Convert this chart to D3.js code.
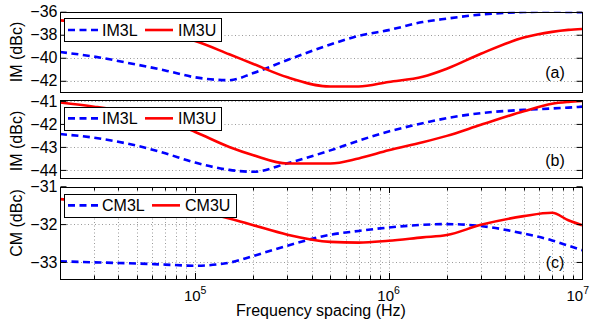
<!DOCTYPE html>
<html><head><meta charset="utf-8">
<script src="https://cdn.jsdelivr.net/npm/d3@7"></script>
<style>
html,body{margin:0;padding:0;background:#fff;}
svg{display:block;font-family:"Liberation Sans",Arial,Helvetica,sans-serif;}
</style></head>
<body>
<svg id="chart" width="591" height="326"></svg>
<script>
// ---- data ----
const freqs = [2e4,3e4,5e4,7e4,1e5,1.5e5,2e5,3e5,5e5,7e5,1e6,1.5e6,2e6,3e6,5e6,7e6,8.5e6,1e7];
const IM3L_a = [-39.5,-39.9,-40.6,-41.1,-41.7,-41.95,-41.33,-40.19,-38.85,-38.1,-37.6,-36.9,-36.6,-36.25,-36.03,-36.0,-36.02,-36.05];
const IM3U_a = [-36.75,-37.0,-37.5,-37.9,-38.55,-39.7,-40.54,-41.7,-42.5,-42.5,-42.1,-41.65,-40.95,-39.65,-38.25,-37.75,-37.58,-37.5];
const IM3L_b = [-42.44,-42.6,-42.95,-43.28,-43.68,-44.0,-44.08,-43.71,-43.15,-42.73,-42.33,-41.97,-41.75,-41.53,-41.39,-41.33,-41.29,-41.25];
const IM3U_b = [-41.07,-41.25,-41.55,-41.85,-42.35,-43.0,-43.36,-43.72,-43.72,-43.5,-43.15,-42.8,-42.52,-42.04,-41.45,-41.12,-41.04,-41.0];
const CM3L_c = [-32.98,-33.01,-33.04,-33.07,-33.1,-33.02,-32.84,-32.57,-32.28,-32.18,-32.09,-32.02,-32.0,-32.05,-32.25,-32.43,-32.57,-32.69];
const CM3U_c = [-31.34,-31.4,-31.5,-31.58,-31.68,-31.85,-32.03,-32.28,-32.47,-32.49,-32.44,-32.35,-32.29,-32.02,-31.79,-31.7,-31.9,-32.03];
const yTicks_a = [-42,-40,-38,-36];
const yTicks_b = [-44,-43,-42,-41];
const yTicks_c = [-33,-32,-31];
const xMajor = [1e5,1e6,1e7];
const xMajorExp = ["5","6","7"];

// ---- layout ----
const svg = d3.select("#chart");
const L = 60, R = 582;
const x = d3.scaleLog().domain([2e4,1e7]).range([L,R]);
const minorX = [];
for (let d=1e4; d<1e7; d*=10) for (let k=1;k<=9;k++){ const v=d*k; if(v>=2e4 && v<=1e7) minorX.push(v); }
minorX.push(1e7);

const panels = [
  {key:"a", domain:[-43,-36], top:11.7, bottom:92.3, ticks:yTicks_a, ylab:"IM (dBc)", ylabY:52,
   series:[{name:"IM3L", v:IM3L_a, c:"#0000ff", dash:"7,4.5"},{name:"IM3U", v:IM3U_a, c:"#ff0000", dash:null}],
   leg:{x0:63.5,x1:220,y0:18.3,y1:41.7}, tag:"(a)", tagY:72, xgrid:false},
  {key:"b", domain:[-44.33,-40.96], top:100, bottom:177.5, ticks:yTicks_b, ylab:"IM (dBc)", ylabY:141,
   series:[{name:"IM3L", v:IM3L_b, c:"#0000ff", dash:"7,4.5"},{name:"IM3U", v:IM3U_b, c:"#ff0000", dash:null}],
   leg:{x0:63.5,x1:220,y0:106.7,y1:130}, tag:"(b)", tagY:160, xgrid:false},
  {key:"c", domain:[-33.45,-31.02], top:187, bottom:279, ticks:yTicks_c, ylab:"CM (dBc)", ylabY:223,
   series:[{name:"CM3L", v:CM3L_c, c:"#0000ff", dash:"7,4.5"},{name:"CM3U", v:CM3U_c, c:"#ff0000", dash:null}],
   leg:{x0:63.5,x1:235,y0:194,y1:216.7}, tag:"(c)", tagY:262, xgrid:true}
];

panels.forEach(p => {
  const y = d3.scaleLinear().domain(p.domain).range([p.bottom,p.top]);
  const g = svg.append("g");
  const clipId = "clip"+p.key;
  svg.append("clipPath").attr("id",clipId).append("rect")
    .attr("x",L).attr("y",p.top).attr("width",R-L).attr("height",p.bottom-p.top);

  // grids
  const grid = g.append("g").attr("stroke","#9a9a9a").attr("stroke-width",1).attr("stroke-dasharray","1,2.5");
  p.ticks.forEach(t => {
    const yy = Math.round(y(t))+0.5;
    if (yy > p.top+1 && yy < p.bottom-1)
      grid.append("line").attr("x1",L).attr("x2",R).attr("y1",yy).attr("y2",yy);
  });
  if (p.xgrid) {
    minorX.forEach(f => {
      const xx = Math.round(x(f))+0.5;
      if (xx > L+1 && xx < R-1)
        grid.append("line").attr("x1",xx).attr("x2",xx).attr("y1",p.top).attr("y2",p.bottom);
    });
  }

  // lines
  const line = d3.line().x((d,i)=>x(freqs[i])).y(d=>y(d)).curve(d3.curveMonotoneX);
  const lg = g.append("g").attr("clip-path",`url(#${clipId})`);
  p.series.forEach(s => {
    lg.append("path").attr("d",line(s.v)).attr("fill","none").attr("stroke",s.c)
      .attr("stroke-width",2.6).attr("stroke-dasharray",s.dash);
  });

  // box
  g.append("rect").attr("x",L+0.5).attr("y",Math.round(p.top)+0.5).attr("width",R-L)
    .attr("height",Math.round(p.bottom)-Math.round(p.top)).attr("fill","none").attr("stroke","#000").attr("stroke-width",1);

  // y ticks
  const yAxisL = d3.axisLeft(y).tickValues(p.ticks).tickSize(-6).tickPadding(3).tickFormat(d=>"\u2212"+Math.abs(d));
  const ya = g.append("g").attr("transform",`translate(${L+0.5},0)`).call(yAxisL);
  ya.select(".domain").remove();
  ya.selectAll("text").attr("font-size",16).attr("fill","#000").attr("font-family","Liberation Sans, Arial, sans-serif");
  const yAxisR = d3.axisRight(y).tickValues(p.ticks).tickSize(-6).tickFormat("");
  const yr = g.append("g").attr("transform",`translate(${R+0.5},0)`).call(yAxisR);
  yr.select(".domain").remove();

  // x ticks for panel c
  if (p.key === "c") {
    const xb = g.append("g").attr("stroke","#000").attr("stroke-width",1);
    minorX.forEach(f => {
      const xx = Math.round(x(f))+0.5;
      const len = xMajor.includes(f) ? 6 : 3.5;
      xb.append("line").attr("x1",xx).attr("x2",xx).attr("y1",p.bottom).attr("y2",p.bottom-len);
      xb.append("line").attr("x1",xx).attr("x2",xx).attr("y1",p.top).attr("y2",p.top+len);
    });
    xMajor.forEach((f,i) => {
      const last = i === xMajor.length-1;
      const t = g.append("text").attr("x", last ? 589 : x(f)).attr("y",300.5)
        .attr("text-anchor", last ? "end" : "middle")
        .attr("font-size",15).attr("fill","#000");
      t.append("tspan").text("10");
      t.append("tspan").attr("dy",-7).attr("font-size",10.5).text(xMajorExp[i]);
    });
    g.append("text").attr("x",(L+R)/2).attr("y",316).attr("text-anchor","middle")
      .attr("font-size",16).attr("fill","#000").text("Frequency spacing (Hz)");
  }

  // y label
  g.append("text").attr("transform",`translate(16,${p.ylabY}) rotate(-90)`)
    .attr("text-anchor","middle").attr("dy","0.35em").attr("font-size",16).attr("fill","#000").text(p.ylab);

  // panel tag
  g.append("text").attr("x",555).attr("y",p.tagY).attr("dy","0.35em").attr("text-anchor","middle")
    .attr("font-size",16).attr("fill","#000").text(p.tag);

  // legend
  const lb = p.leg;
  const leg = g.append("g");
  leg.append("rect").attr("x",Math.round(lb.x0)+0.5).attr("y",Math.round(lb.y0)+0.5)
    .attr("width",Math.round(lb.x1-lb.x0)).attr("height",Math.round(lb.y1-lb.y0))
    .attr("fill","#fff").attr("stroke","#000").attr("stroke-width",1);
  const cy = (lb.y0+lb.y1)/2;
  const wide = p.key === "c";
  const items = [
    {s:p.series[0], lx0:68, lx1:98, tx:102},
    {s:p.series[1], lx0: wide?152:145, lx1: wide?180:173, tx: wide?185:178}
  ];
  items.forEach(it => {
    leg.append("line").attr("x1",it.lx0).attr("x2",it.lx1).attr("y1",cy).attr("y2",cy)
      .attr("stroke",it.s.c).attr("stroke-width",2.6).attr("stroke-dasharray",it.s.dash);
    leg.append("text").attr("x",it.tx).attr("y",cy).attr("dy","0.36em").attr("font-size",16)
      .attr("fill","#000").text(it.s.name);
  });
});
</script>
</body></html>
